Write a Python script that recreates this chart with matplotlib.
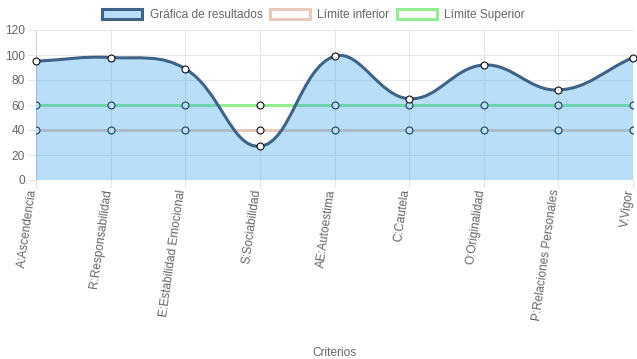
import numpy as np
import matplotlib
matplotlib.use('Agg')
import matplotlib.pyplot as plt
from matplotlib.path import Path
from matplotlib.patches import PathPatch, Patch

plt.rcParams['font.family'] = ['Liberation Sans', 'DejaVu Sans']

# ============================================================
# DATA
# ============================================================
criterios = ['A:Ascendencia', 'R:Responsabilidad', 'E:Estabilidad Emocional',
             'S:Sociabilidad', 'AE:Autoestima', 'C:Cautela', 'O:Originalidad',
             'P:Relaciones Personales', 'V:Vigor']
resultados = [95, 98, 89, 27, 99, 65, 92, 72, 98]
limite_inferior = [40, 40, 40, 40, 40, 40, 40, 40, 40]
limite_superior = [60, 60, 60, 60, 60, 60, 60, 60, 60]

W, H = 637, 359
L, R, T, B = 36, 633, 30, 180   # plot area in px
YMAX = 120

fig = plt.figure(figsize=(W / 100, H / 100), dpi=100)
ax = fig.add_axes([L / W, (H - B) / H, (R - L) / W, (B - T) / H])

n = len(criterios)
ax.set_xlim(0, n - 1)
ax.set_ylim(0, YMAX)

# px scale, used for the chart.js-like spline
sx = (R - L) / (n - 1)
sy = (B - T) / YMAX


def spline_path(xs, ys, t=0.4):
    px = np.array(xs, float) * sx
    py = np.array(ys, float) * sy
    cps = []
    for i in range(len(px)):
        p0 = (px[max(i - 1, 0)], py[max(i - 1, 0)])
        p1 = (px[i], py[i])
        p2 = (px[min(i + 1, len(px) - 1)], py[min(i + 1, len(px) - 1)])
        d01 = np.hypot(p1[0] - p0[0], p1[1] - p0[1])
        d12 = np.hypot(p2[0] - p1[0], p2[1] - p1[1])
        s01 = d01 / (d01 + d12) if d01 + d12 else 0
        s12 = d12 / (d01 + d12) if d01 + d12 else 0
        fa, fb = t * s01, t * s12
        prev = (p1[0] - fa * (p2[0] - p0[0]), p1[1] - fa * (p2[1] - p0[1]))
        nxt = (p1[0] + fb * (p2[0] - p0[0]), p1[1] + fb * (p2[1] - p0[1]))
        prev = (prev[0], min(max(prev[1], 0), YMAX * sy))
        nxt = (nxt[0], min(max(nxt[1], 0), YMAX * sy))
        cps.append((prev, nxt))
    verts = [(px[0], py[0])]
    codes = [Path.MOVETO]
    for i in range(1, len(px)):
        verts += [cps[i - 1][1], cps[i][0], (px[i], py[i])]
        codes += [Path.CURVE4] * 3
    verts = [(vx / sx, vy / sy) for vx, vy in verts]
    return verts, codes


x = np.arange(n)

# grid
for v in range(0, YMAX + 1, 20):
    ax.axhline(v, color='#e6e6e6', lw=0.75, zorder=0)
for v in x:
    ax.axvline(v, color='#e6e6e6', lw=0.75, zorder=0)

# limit lines (drawn under the translucent fill)
ax.plot(x, limite_inferior, color='#e8c9bc', lw=2.2, zorder=1,
        marker='o', ms=5, mfc='white', mec='black', mew=0.75)
ax.plot(x, limite_superior, color='#90ee90', lw=2.2, zorder=1,
        marker='o', ms=5, mfc='white', mec='black', mew=0.75)

# result area
verts, codes = spline_path(x, resultados)
fill_verts = verts + [(n - 1, 0), (0, 0), (0, 0)]
fill_codes = codes + [Path.LINETO, Path.LINETO, Path.CLOSEPOLY]
ax.add_patch(PathPatch(Path(fill_verts, fill_codes), facecolor=(54/255, 162/255, 235/255, 0.35),
                       edgecolor='none', zorder=2))
ax.add_patch(PathPatch(Path(verts, codes), facecolor='none', edgecolor='#3e6387',
                       lw=2.2, zorder=3, capstyle='round', joinstyle='round'))
ax.plot(x, resultados, ls='none', marker='o', ms=5, mfc='white', mec='black',
        mew=0.75, zorder=4, clip_on=False)

# axes styling
for s in ax.spines.values():
    s.set_visible(False)
ax.axhline(0, color='#d0d0d0', lw=0.75, zorder=0)
ax.axvline(0, color='#d0d0d0', lw=0.75, zorder=0)

ax.set_yticks(range(0, YMAX + 1, 20))
ax.set_xticks(x)
ax.tick_params(axis='both', length=6, width=0.75, color='#e6e6e6',
               labelcolor='#666666', labelsize=8.6)
ax.tick_params(axis='y', pad=2)
ax.tick_params(axis='x', pad=1)
ax.set_xticklabels(criterios, rotation=82, ha='right', va='baseline',
                   rotation_mode='anchor')
ax.set_xlabel('Criterios', color='#666666', fontsize=8.6, labelpad=6)
ax.xaxis.set_label_coords(0.5, -(347 - B) / (B - T))

handles = [
    Patch(facecolor='#b9def8', edgecolor='#3e6387', lw=2.2),
    Patch(facecolor='white', edgecolor='#e8c9bc', lw=2.2),
    Patch(facecolor='white', edgecolor='#90ee90', lw=2.2),
]
fig.legend(handles, ['Gráfica de resultados', 'Límite inferior', 'Límite Superior'],
           loc='center', bbox_to_anchor=(0.492, 1 - 15 / H), ncol=3, frameon=False,
           fontsize=8.6, labelcolor='#666666', handlelength=3.4, handleheight=0.9,
           handletextpad=0.6, columnspacing=0.6)

fig.savefig('out.png', dpi=100)
